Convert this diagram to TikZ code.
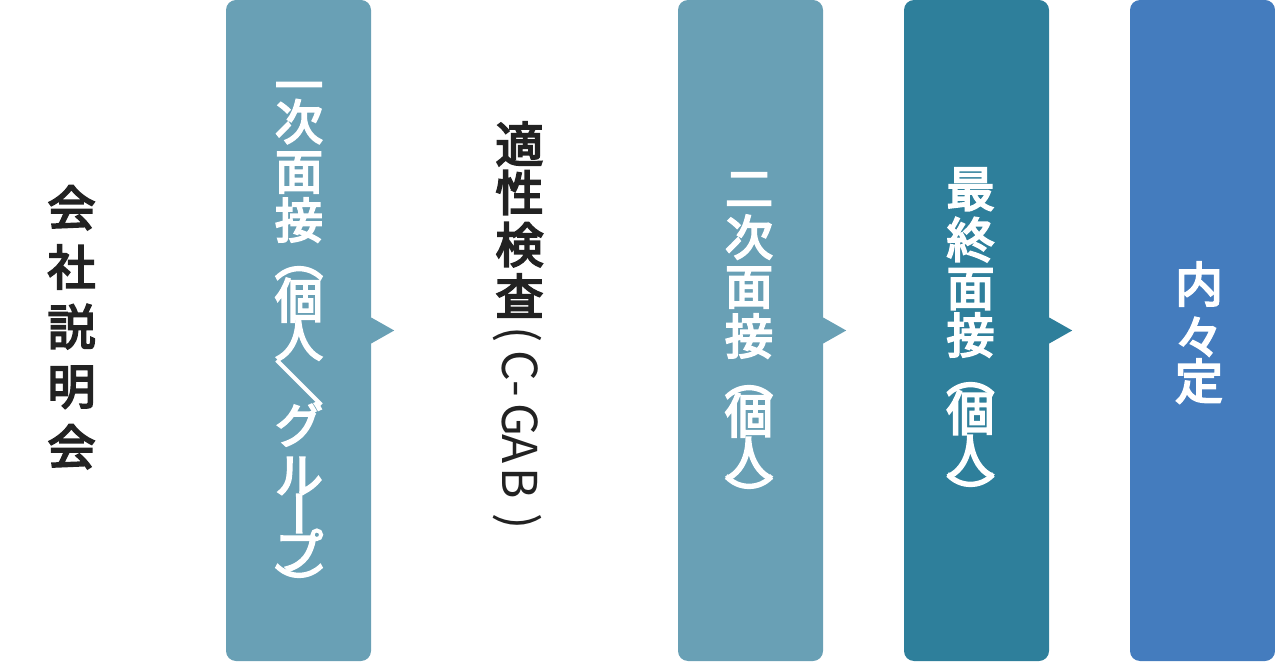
\documentclass[tikz,border=0pt]{standalone}
\usepackage{graphicx}
\usepackage{fontspec}
\newfontfamily\cjk{Noto Sans CJK JP}[FakeBold=4]
\newfontfamily\cjklat{Noto Sans CJK JP}
\definecolor{lightteal}{HTML}{69A0B5}
\definecolor{darkteal}{HTML}{2E7F9B}
\definecolor{stepblue}{HTML}{447CBE}
\definecolor{ink}{HTML}{222222}
\newcommand\lpar{(}
\newcommand\rpar{)}
% a character in a full em cell, centred like vertical type
\newcommand\emcell[1]{\hbox{\vrule height .88em depth .12em width 0pt\smash{#1}}}
\newcommand\rotcell[1]{\rotatebox[origin=c]{-90}{\emcell{#1}}}
\begin{document}
\begin{tikzpicture}[x=1pt,y=-1pt,
  vch/.style={inner sep=0pt, font=\cjk\fontsize{48}{48}\selectfont},
  blk/.style={vch, text=ink},
  blklat/.style={inner sep=0pt, text=ink, font=\cjklat\fontsize{48}{48}\selectfont},
  wht/.style={vch, text=white},
  stepbox/.style={rounded corners=10pt, inner sep=0pt, minimum width=145pt, minimum height=661pt}
]
\useasboundingbox (0,0) rectangle (1275,663);

% boxes
\node[stepbox, fill=lightteal] (b1) at (298.5,330.5) {};
\node[stepbox, fill=lightteal] (b2) at (750.5,330.5) {};
\node[stepbox, fill=darkteal]  (b3) at (976.5,330.5) {};
\node[stepbox, fill=stepblue]  (b4) at (1202.5,330.5) {};

% pointers
\fill[lightteal] ([yshift=13pt]b1.east) -- ([xshift=23pt]b1.east) -- ([yshift=-13pt]b1.east) -- cycle;
\fill[lightteal] ([yshift=13pt]b2.east) -- ([xshift=23pt]b2.east) -- ([yshift=-13pt]b2.east) -- cycle;
\fill[darkteal]  ([yshift=13pt]b3.east) -- ([xshift=23pt]b3.east) -- ([yshift=-13pt]b3.east) -- cycle;

% label: company briefing
\foreach \c/\y [count=\i] in {会/207.5, 社/267, 説/326.5, 明/386, 会/446.5}
  \node[blk] (a-\i) at (71.5,\y) {\emcell{\c}};

% label: first interview
\foreach \c/\y/\m [count=\i] in {一/85/\emcell, 次/121.5/\emcell, 面/171/\emcell, 接/220/\emcell, （/257.5/\rotcell, 個/300/\emcell, 人/338.5/\emcell, ／/382.5/\rotcell, グ/424.5/\emcell, ル/475/\emcell, ー/513.5/\rotcell, プ/551/\emcell, ）/586.5/\rotcell}
  \node[wht] (p-\i) at (299,\y) {\m{\c}};

% label: aptitude test
\foreach \c/\y [count=\i] in {適/144, 性/192.5, 検/244.5, 査/296}
  \node[blk] (q-\i) at (519.5,\y) {\emcell{\c}};
\foreach \c/\y [count=\i] in {\lpar/340, C/367, -/393.5, G/420.5, A/451, B/484.5, \rpar/527}
  \node[blklat] (ql-\i) at (521,\y) {\rotcell{\c}};

% label: second interview
\foreach \c/\y/\m [count=\i] in {二/188/\emcell, 次/237/\emcell, 面/286/\emcell, 接/336/\emcell, （/376.5/\rotcell, 個/415/\emcell, 人/458/\emcell, ）/497.5/\rotcell}
  \node[wht] (r-\i) at (749,\y) {\m{\c}};

% label: final interview
\foreach \c/\y/\m [count=\i] in {最/188.5/\emcell, 終/239.5/\emcell, 面/287.5/\emcell, 接/335/\emcell, （/373.5/\rotcell, 個/412.5/\emcell, 人/456/\emcell, ）/495.5/\rotcell}
  \node[wht] (s-\i) at (970.5,\y) {\m{\c}};

% label: informal offer
\foreach \c/\y [count=\i] in {内/284, 々/337, 定/381}
  \node[wht] (u-\i) at (1199,\y) {\emcell{\c}};
\end{tikzpicture}
\end{document}
